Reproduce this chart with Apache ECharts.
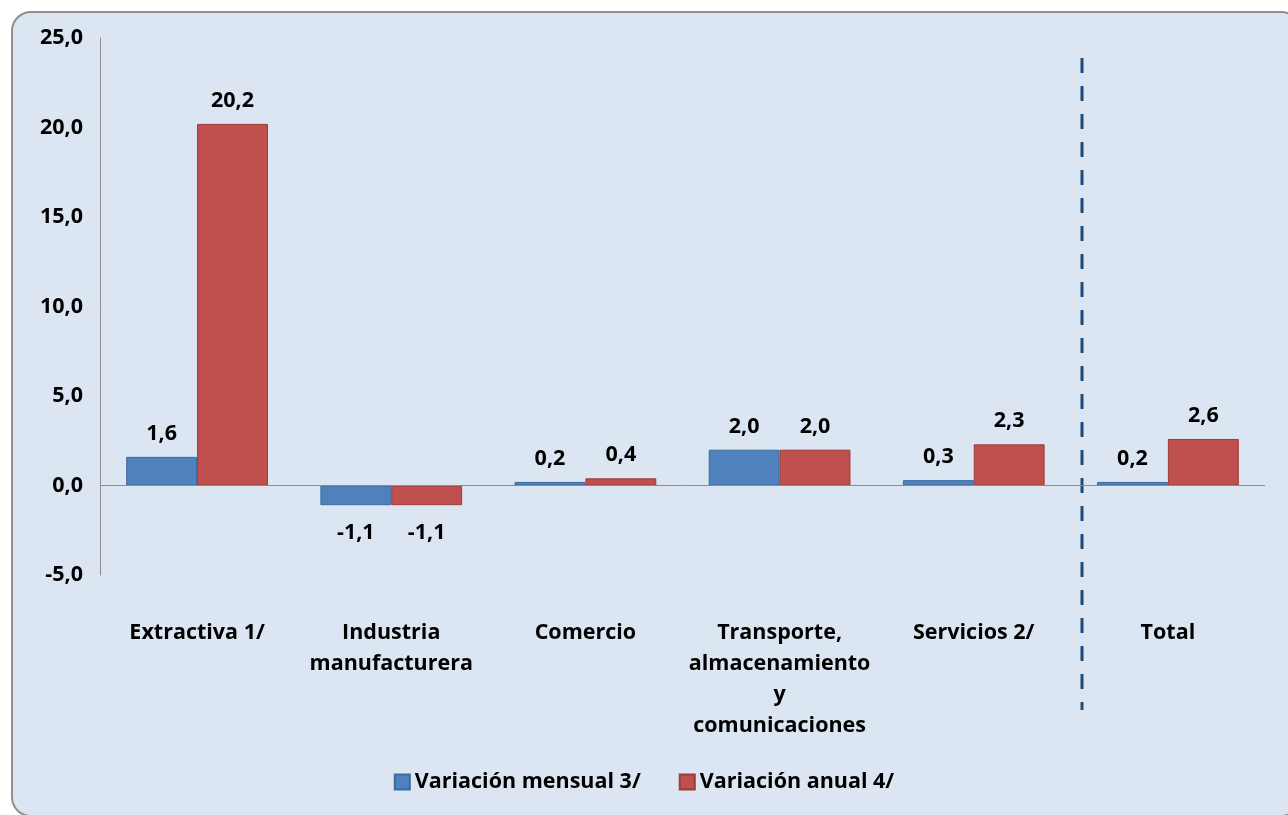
<!DOCTYPE html>
<html>
<head>
<meta charset="utf-8">
<script src="https://cdn.jsdelivr.net/npm/echarts@6/dist/echarts.min.js"></script>
<style>
  html, body { margin: 0; padding: 0; background: #fff; overflow: hidden; }
  #frame {
    position: absolute; left: 11px; top: 11px;
    width: 1286px; height: 802px;
    border: 2px solid #8f8f8f; border-radius: 20px;
    background: #dce6f2;
  }
  #chart { position: absolute; left: 0; top: 0; width: 1288px; height: 815px; }
</style>
</head>
<body>
<div id="frame"></div>
<div id="chart"></div>
<script>
const categories = ['Extractiva 1/', 'Industria\nmanufacturera', 'Comercio',
  'Transporte,\nalmacenamiento\ny\ncomunicaciones', 'Servicios 2/', 'Total']
const mensual = [1.6, -1.1, 0.2, 2.0, 0.3, 0.2]
const anual = [20.2, -1.1, 0.4, 2.0, 2.3, 2.6]
const seriesNames = ['Variación mensual 3/', 'Variación anual 4/']

const FONT = 'Open Sans'
const SIZE = 21.5
const fmt = v => v.toFixed(1).replace('.', ',')

// negative bars get their label underneath
const toItems = arr => arr.map(v => ({
  value: v,
  label: v < 0 ? { position: 'bottom', distance: 17 } : { position: 'top' }
}))

const chart = echarts.init(document.getElementById('chart'))

const labelStyle = {
  show: true,
  distance: 12,
  color: '#000',
  fontFamily: FONT,
  fontWeight: 'bold',
  fontSize: SIZE,
  formatter: p => fmt(p.value)
}

chart.setOption({
  backgroundColor: 'transparent',
  animation: false,
  textStyle: { fontFamily: FONT },
  grid: { left: 100, right: 23, top: 38, bottom: 240 },
  legend: {
    bottom: 17,
    left: 'center',
    itemWidth: 15,
    itemHeight: 15,
    itemGap: 38,
    icon: 'rect',
    textStyle: { color: '#000', fontFamily: FONT, fontWeight: 'bold', fontSize: SIZE },
    data: seriesNames
  },
  xAxis: {
    type: 'category',
    data: categories,
    axisLine: { show: false },
    axisTick: { show: false },
    axisLabel: {
      interval: 0,
      margin: 42,
      color: '#000',
      fontFamily: FONT,
      fontWeight: 'bold',
      fontSize: SIZE,
      lineHeight: 31
    }
  },
  yAxis: {
    type: 'value',
    min: -5,
    max: 25,
    interval: 5,
    axisLine: { show: true, lineStyle: { color: '#8c8c8c', width: 1 } },
    axisTick: { show: false },
    splitLine: { show: false },
    axisLabel: {
      margin: 17,
      color: '#000',
      fontFamily: FONT,
      fontWeight: 'bold',
      fontSize: SIZE,
      formatter: v => fmt(v)
    }
  },
  series: [
    {
      name: seriesNames[0],
      type: 'bar',
      data: toItems(mensual),
      barGap: '0%',
      barCategoryGap: '27%',
      itemStyle: { color: '#4f81bd', borderColor: '#3d6a9e', borderWidth: 1 },
      label: labelStyle,
      markLine: {
        silent: true,
        symbol: 'none',
        label: { show: false },
        lineStyle: { color: '#8c8c8c', width: 1, type: 'solid' },
        data: [{ yAxis: 0 }]
      }
    },
    {
      name: seriesNames[1],
      type: 'bar',
      data: toItems(anual),
      itemStyle: { color: '#c0504d', borderColor: '#9b3b38', borderWidth: 1 },
      label: labelStyle
    }
  ]
})

// dashed separator between "Servicios 2/" and "Total"
const xa = chart.convertToPixel({ xAxisIndex: 0 }, 4)
const xb = chart.convertToPixel({ xAxisIndex: 0 }, 5)
const sepX = Math.round(xa + (xb - xa) * 0.555)
chart.setOption({
  graphic: [{
    type: 'line',
    shape: { x1: sepX, y1: 58, x2: sepX, y2: 710 },
    style: { stroke: '#1f497d', lineWidth: 3, lineDash: [15, 13] },
    silent: true
  }]
})
</script>
</body>
</html>
